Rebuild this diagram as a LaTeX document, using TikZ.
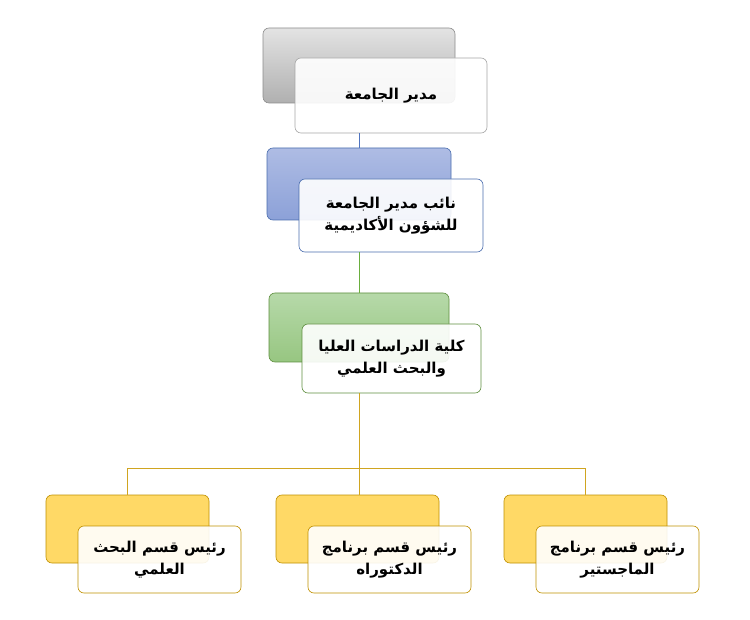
\documentclass[tikz,border=0pt]{standalone}
\usepackage{fontspec}
\usepackage{tikz}
\TeXXeTstate=1
\newfontfamily\arabicfont[Script=Arabic]{DejaVu Sans}
\newcommand{\artxt}[1]{\beginR #1\endR}
\definecolor{grayline}{HTML}{8C8C8C}
\definecolor{bluetop}{HTML}{AEBCE4}
\definecolor{bluebot}{HTML}{8CA1D8}
\definecolor{blueline}{HTML}{4A6DAE}
\definecolor{bluelink}{HTML}{4F74C0}
\definecolor{greentop}{HTML}{B6D9A9}
\definecolor{greenbot}{HTML}{97C681}
\definecolor{greenline}{HTML}{5E8E3E}
\definecolor{greenlink}{HTML}{6AAE3E}
\definecolor{goldfill}{HTML}{FFD966}
\definecolor{goldline}{HTML}{BF9000}
\definecolor{goldlink}{HTML}{D0A520}

\begin{document}
\begin{tikzpicture}[x=1pt,y=-1pt,
  backbox/.style={draw, rounded corners=6pt, line width=0.6pt},
  frontbox/.style={draw, rounded corners=6pt, line width=0.6pt, fill=white, fill opacity=0.9, text opacity=1,
    align=center, font=\arabicfont\bfseries\fontsize{15}{22}\selectfont, text=black},
  link/.style={line width=1pt}]
\useasboundingbox (0,0) rectangle (750,620);
% level 1
\node[backbox, draw=grayline, top color=gray!22, bottom color=gray!62, minimum width=192pt, minimum height=75pt] (boss back) at (359,65.5) {};
\node[frontbox, draw=gray!70, minimum width=192pt, minimum height=75pt] (boss) at (391,95.5) {\artxt{مدير الجامعة}};
% level 2
\node[backbox, draw=blueline, top color=bluetop, bottom color=bluebot, minimum width=184pt, minimum height=72pt] (vice back) at (359,184) {};
\node[frontbox, draw=blueline, minimum width=184pt, minimum height=73pt] (vice) at (391,215.5) {\artxt{نائب مدير الجامعة}\\\artxt{للشؤون الأكاديمية}};
% level 3
\node[backbox, draw=greenline, top color=greentop, bottom color=greenbot, minimum width=180pt, minimum height=69pt] (college back) at (359,327.5) {};
\node[frontbox, draw=greenline, minimum width=179pt, minimum height=69pt] (college) at (391.5,358.5) {\artxt{كلية الدراسات العليا}\\\artxt{والبحث العلمي}};
% level 4
\foreach \nm/\cx/\txa/\txb in {research/127.5/رئيس قسم البحث/العلمي, phd/357.5/رئيس قسم برنامج/الدكتوراه, master/585.5/رئيس قسم برنامج/الماجستير}{
  \node[backbox, draw=goldline, fill=goldfill, minimum width=163pt, minimum height=68pt] (\nm\space back) at (\cx,529) {};
  \node[frontbox, draw=goldline, minimum width=163pt, minimum height=67pt] (\nm) at (\cx+32,559.5) {\artxt{\txa}\\\artxt{\txb}};
}
% connectors
\draw[link, bluelink] (boss back.south |- boss.south) -- (vice back.north);
\draw[link, greenlink] (vice back.south |- vice.south) -- (college back.north);
\coordinate (split) at (359,468);
\draw[link, goldlink] (college back.south |- college.south) -- (split);
\draw[link, goldlink] (split) -| (research back.north);
\draw[link, goldlink] (split) -| (master back.north);
\draw[link, goldlink] (split) -- (split |- phd back.north);
\end{tikzpicture}
\end{document}
